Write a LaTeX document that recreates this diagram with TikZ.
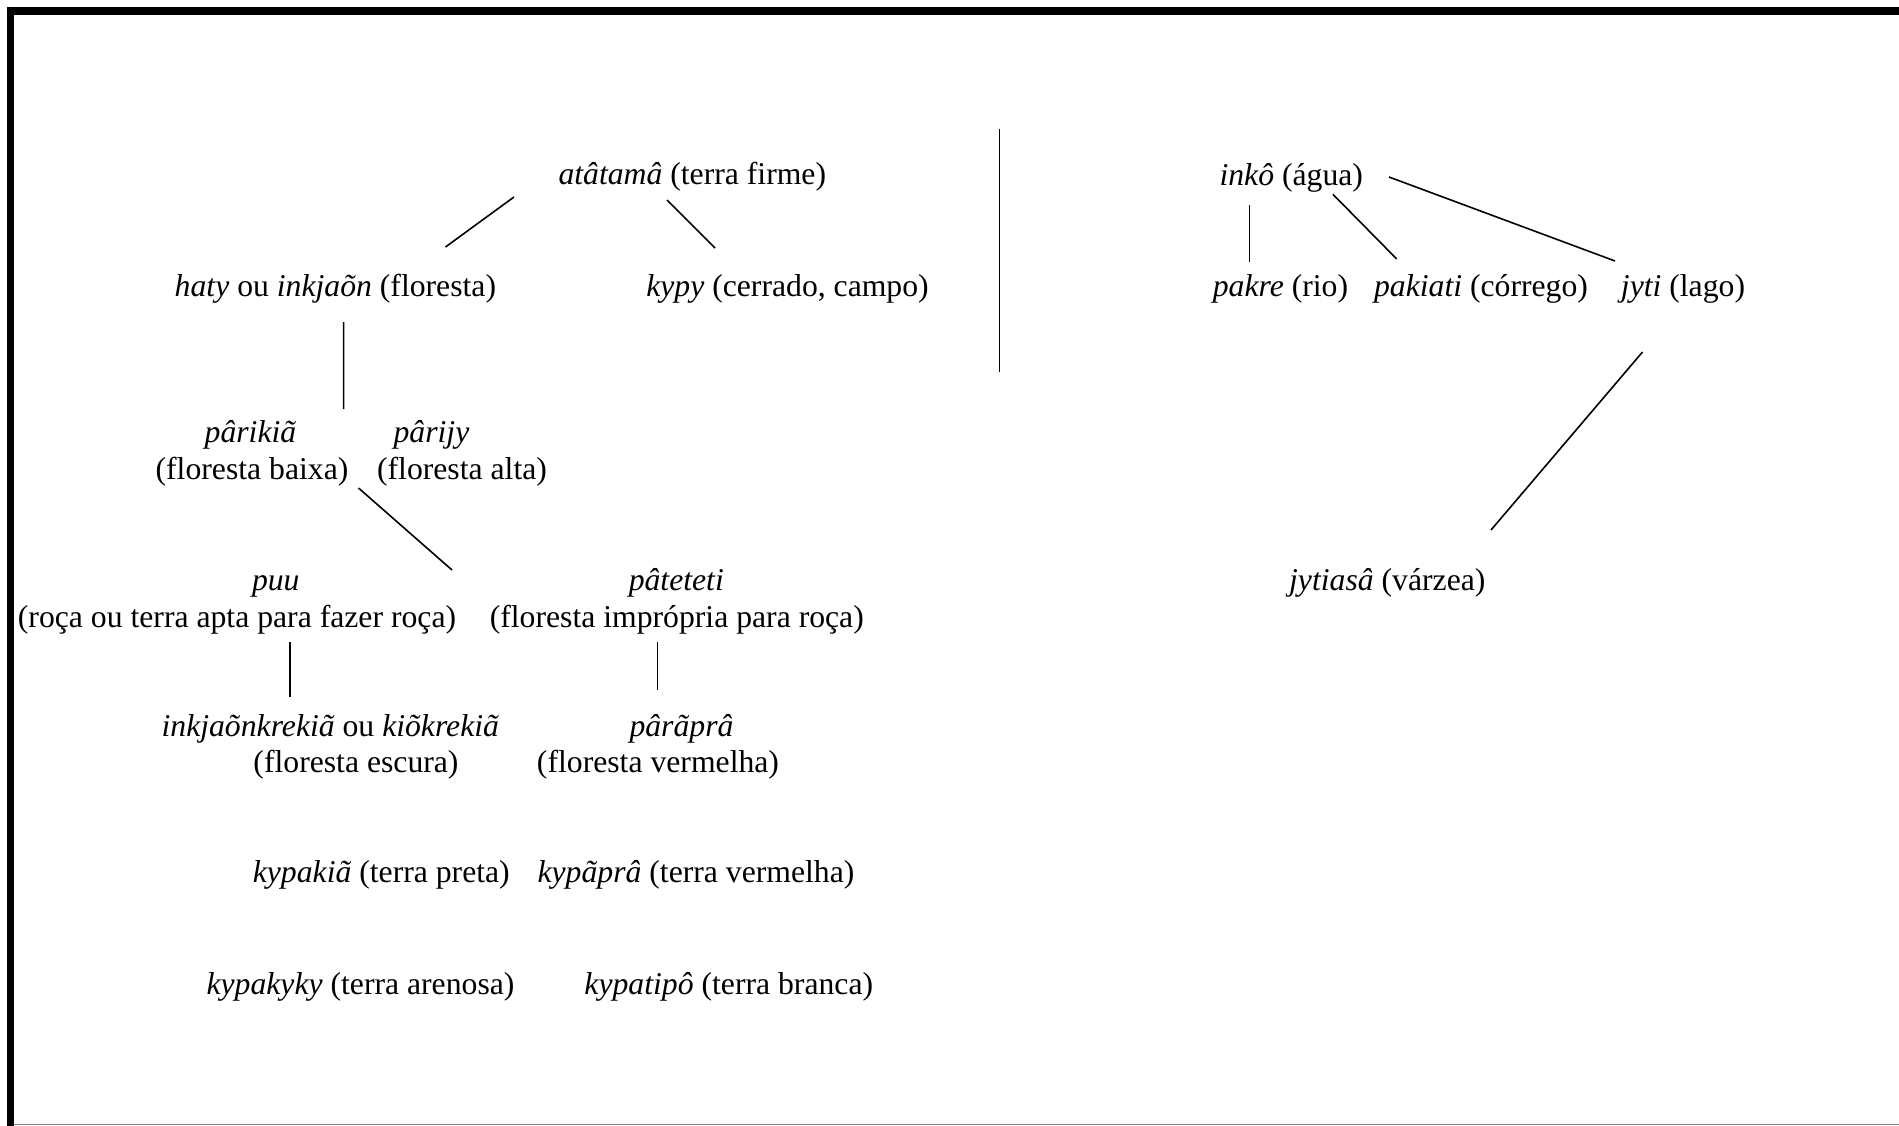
\documentclass[tikz,border=0pt]{standalone}
\usepackage{fontspec}
\setmainfont{Liberation Serif}
\begin{document}
\begin{tikzpicture}[x=1pt,y=-1pt,
  txt/.style={inner sep=0pt, anchor=base, font=\fontsize{31.7}{38}\selectfont},
  ln/.style={line width=1.6pt, line cap=butt}]
\useasboundingbox (0,0) rectangle (1899,1126);
\fill[white] (0,0) rectangle (1899,1126);
% frame
\fill[black] (7,7) rectangle (1899,15.5);
\fill[black] (7,7) rectangle (14,1126);
\draw[gray, line width=1pt] (14,1124.5) -- (1899,1124.5);

% left tree
\node[txt] (atamam) at (692.3,185) {\textit{atâtamâ} (terra firme)};
\node[txt] (haty) at (335.4,296) {\textit{haty} ou \textit{inkjaõn} (floresta)};
\node[txt] (kypy) at (787.5,296) {\textit{kypy} (cerrado, campo)};
\node[txt] (parikia) at (250.5,442) {\textit{pârikiã}};
\node[txt] (parijy) at (431.5,442) {\textit{pârijy}};
\node[txt] (flbaixa) at (252,479) {(floresta baixa)};
\node[txt] (flalta) at (462,479) {(floresta alta)};
\node[txt] (puu) at (275.8,590) {\textit{puu}};
\node[txt] (roca) at (237,627) {(roça ou terra apta para fazer roça)};
\node[txt] (pateteti) at (676.3,590) {\textit{pâteteti}};
\node[txt] (impropria) at (676.8,627) {(floresta imprópria para roça)};
\node[txt] (inkjaon) at (330.3,736) {\textit{inkjaõnkrekiã} ou \textit{kiõkrekiã}};
\node[txt] (escura) at (356,772) {(floresta escura)};
\node[txt] (parapra) at (681.5,736) {\textit{pârãprâ}};
\node[txt] (vermelha) at (658,772) {(floresta vermelha)};
\node[txt] (kypakia) at (381.3,882) {\textit{kypakiã} (terra preta)};
\node[txt] (kypapra) at (696,882) {\textit{kypãprâ} (terra vermelha)};
\node[txt] (kypakyky) at (360.5,994) {\textit{kypakyky} (terra arenosa)};
\node[txt] (kypatipo) at (728.8,994) {\textit{kypatipô} (terra branca)};

% right tree
\node[txt] (inko) at (1291.3,186) {\textit{inkô} (água)};
\node[txt] (pakre) at (1280.5,296) {\textit{pakre} (rio)};
\node[txt] (pakiati) at (1481,296) {\textit{pakiati} (córrego)};
\node[txt] (jyti) at (1683,296) {\textit{jyti} (lago)};
\node[txt] (jytiasa) at (1387.3,590) {\textit{jytiasâ} (várzea)};

% divider
\coordinate (divtop) at (999.6,129);
\coordinate (divbot) at (999.6,372);
\draw[ln] (divtop) -- (divbot);

% connectors
\draw[ln] ([shift={(-178.3,12)}]atamam.base) -- ([shift={(110.1,-49)}]haty.base);
\draw[ln] ([shift={(-25.3,15)}]atamam.base) -- ([shift={(-72.5,-48)}]kypy.base);
\draw[ln] ([shift={(8.2,26)}]haty.base) -- ([shift={(93.1,-33)}]parikia.base);
\draw[ln] ([shift={(106.5,9)}]flbaixa.base) -- ([shift={(-224.3,-20)}]pateteti.base);
\draw[ln] ([shift={(52.7,15)}]roca.base) -- ([shift={(-40.6,-39.5)}]inkjaon.base);
\draw[ln] ([shift={(-19.2,15)}]impropria.base) -- ([shift={(-23.9,-46)}]parapra.base);
\draw[ln] ([shift={(-41.7,19.5)}]inko.base) -- ([shift={(-30.9,-34)}]pakre.base);
\draw[ln] ([shift={(41.7,8.4)}]inko.base) -- ([shift={(-84.3,-37)}]pakiati.base);
\draw[ln] ([shift={(97.7,-9)}]inko.base) -- ([shift={(-68,-35)}]jyti.base);
\draw[ln] ([shift={(-40.5,56)}]jyti.base) -- ([shift={(103.7,-60)}]jytiasa.base);
\end{tikzpicture}
\end{document}
